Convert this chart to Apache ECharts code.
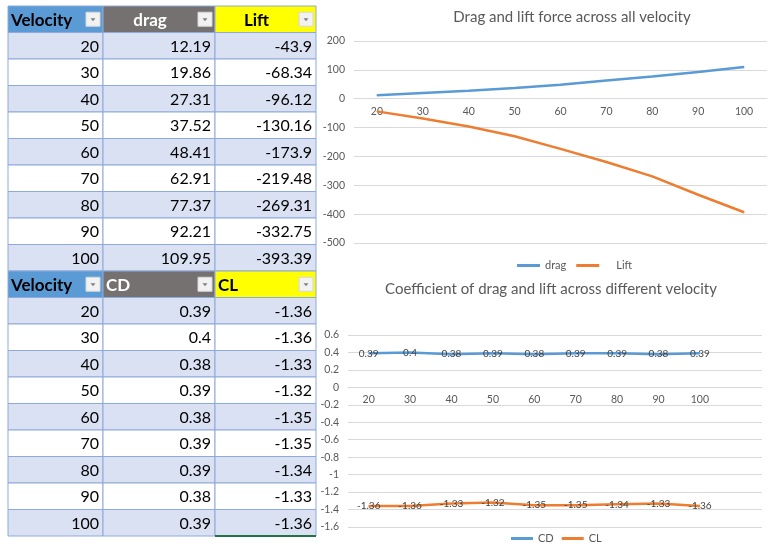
<!DOCTYPE html>
<html>
<head>
<meta charset="utf-8">
<script src="https://cdn.jsdelivr.net/npm/echarts@6/dist/echarts.min.js"></script>
<style>
  html, body { margin: 0; padding: 0; background: #ffffff; }
  #main { width: 769px; height: 546px; }
</style>
</head>
<body>
<div id="main"></div>
<script>
// ---- data ----
const velocity = [20, 30, 40, 50, 60, 70, 80, 90, 100];
const drag = [12.19, 19.86, 27.31, 37.52, 48.41, 62.91, 77.37, 92.21, 109.95];
const lift = [-43.9, -68.34, -96.12, -130.16, -173.9, -219.48, -269.31, -332.75, -393.39];
const cd = [0.39, 0.4, 0.38, 0.39, 0.38, 0.39, 0.39, 0.38, 0.39];
const cl = [-1.36, -1.36, -1.33, -1.32, -1.35, -1.35, -1.34, -1.33, -1.36];

const forceHeaders = ['Velocity', 'drag', 'Lift'];
const coeffHeaders = ['Velocity', 'CD', 'CL'];

const velocityLabels = velocity.map(String);
// the coefficient chart's source range includes one blank trailing row
const coeffCategories = velocityLabels.concat(['']);

const forceAxis = { min: -500, max: 200, interval: 100 };
const coeffAxis = { min: -1.6, max: 0.6, interval: 0.2 };

// ---- layout & styles ----
const FORCE_GRID = { left: 354, top: 41, width: 413, height: 202 };
const COEFF_GRID = { left: 348, top: 335, width: 414, height: 192 };
const COL_EDGES = [0, 95, 207, 308];
const HEADER_FILL = ['#5B9BD5', '#767171', '#FFFF00'];
const HEADER_TEXT = ['#000000', '#FFFFFF', '#000000'];
const BAND_FILL = ['#D9E1F2', '#FFFFFF'];
const GRID_LINE = '#8EA9DB';
const FONT = 'Lato, "Open Sans", sans-serif';

// category axis sits on the value axis' zero line: shift it up from the grid bottom
function zeroOffset(grid, axis) {
  return -grid.height * (0 - axis.min) / (axis.max - axis.min);
}

// both sheet tables stacked into one list of rows
const tableRows = [];
tableRows.push({ kind: 'header', cells: forceHeaders, align: ['left', 'center', 'center'] });
velocity.forEach((v, i) => tableRows.push({ kind: 'data', band: i % 2, cells: [String(v), String(drag[i]), String(lift[i])] }));
tableRows.push({ kind: 'header', cells: coeffHeaders, align: ['left', 'left', 'left'] });
velocity.forEach((v, i) => tableRows.push({ kind: 'data', band: i % 2, cells: [String(v), String(cd[i]), String(cl[i])] }));

const cellData = [];
tableRows.forEach((row, r) => { for (let c = 0; c < 3; c++) cellData.push([c, r]); });

function renderCell(params, api) {
  const c = api.value(0);
  const r = api.value(1);
  const row = tableRows[r];
  const left = api.coord([COL_EDGES[c], r])[0];
  const right = api.coord([COL_EDGES[c + 1], r])[0];
  const cy = api.coord([0, r])[1];
  const h = api.size([0, 1])[1];
  const top = cy - h / 2;
  const w = right - left;
  const children = [];

  if (row.kind === 'header') {
    children.push({ type: 'rect', shape: { x: left, y: top, width: w, height: h },
      style: { fill: HEADER_FILL[c], stroke: GRID_LINE, lineWidth: 1 } });
    const a = row.align[c];
    const tx = a === 'left' ? left + 3 : (left + right - 18) / 2;
    children.push({ type: 'text', style: { text: row.cells[c], x: tx, y: cy + 1, align: a,
      verticalAlign: 'middle', font: 'bold 17px ' + FONT, fill: HEADER_TEXT[c] } });
    // filter dropdown button
    const bx = right - 17, by = cy - 7;
    children.push({ type: 'rect', shape: { x: bx, y: by, width: 14, height: 14 },
      style: { fill: '#F2F2F2', stroke: '#D6D6D6', lineWidth: 1 } });
    children.push({ type: 'polygon', shape: { points: [[bx + 4.5, by + 6], [bx + 9.5, by + 6], [bx + 7, by + 9]] },
      style: { fill: '#808080' } });
  } else {
    children.push({ type: 'rect', shape: { x: left, y: top, width: w, height: h },
      style: { fill: BAND_FILL[row.band], stroke: GRID_LINE, lineWidth: 1 } });
    children.push({ type: 'text', style: { text: row.cells[c], x: right - 4, y: cy + 1, align: 'right',
      verticalAlign: 'middle', font: '16px ' + FONT, fill: '#000000' } });
    if (r === tableRows.length - 1 && c === 2) {
      children.push({ type: 'line', shape: { x1: left, y1: top + h, x2: right, y2: top + h },
        style: { stroke: '#217346', lineWidth: 2 } });
    }
  }
  return { type: 'group', children };
}

const axisText = { color: '#595959', fontSize: 10.5, fontFamily: FONT };
const gridLine = { lineStyle: { color: '#D9D9D9', width: 1 } };

function categoryAxis(gridIndex, data, grid, valueAxis) {
  return {
    type: 'category', gridIndex, data, position: 'bottom',
    offset: zeroOffset(grid, valueAxis),
    axisLine: { onZero: false, lineStyle: { color: '#D9D9D9' } }, axisTick: { show: false },
    axisLabel: Object.assign({ margin: 7, interval: 0 }, axisText), splitLine: { show: false }
  };
}

function valueAxis(gridIndex, range) {
  return Object.assign({
    type: 'value', gridIndex, axisLine: { show: false }, axisTick: { show: false },
    axisLabel: Object.assign({ margin: 9 }, axisText), splitLine: gridLine
  }, range);
}

function lineSeries(name, data, color, xi, withLabels) {
  return {
    type: 'line', name, data, xAxisIndex: xi, yAxisIndex: xi,
    color, lineStyle: { color, width: 2.5 },
    symbol: 'circle', symbolSize: 1, showSymbol: true,
    itemStyle: { color },
    label: withLabels ? { show: true, position: 'inside', color: '#404040', fontSize: 10, fontFamily: FONT } : { show: false },
    emphasis: { disabled: true }
  };
}

const chart = echarts.init(document.getElementById('main'), null, { renderer: 'canvas' });
chart.setOption({
  animation: false,
  backgroundColor: '#ffffff',
  textStyle: { fontFamily: FONT },
  title: [
    { text: 'Drag and lift force across all velocity', left: 572, top: 10, textAlign: 'center', padding: 0,
      textStyle: { color: '#595959', fontSize: 15, fontWeight: 'normal', fontFamily: FONT } },
    { text: 'Coefficient of drag and lift across different velocity', left: 551, top: 282, textAlign: 'center', padding: 0,
      textStyle: { color: '#595959', fontSize: 15, fontWeight: 'normal', fontFamily: FONT } }
  ],
  legend: [
    { data: ['drag', { name: 'Lift', textStyle: { padding: [0, 0, 0, 12] } }], left: 517, top: 260,
      icon: 'rect', itemWidth: 23, itemHeight: 3, itemGap: 10, padding: 0,
      textStyle: { color: '#595959', fontSize: 11 } },
    { data: ['CD', 'CL'], left: 511, top: 533,
      icon: 'rect', itemWidth: 22, itemHeight: 3, itemGap: 8, padding: 0,
      textStyle: { color: '#595959', fontSize: 11 } }
  ],
  grid: [
    { left: 8, top: 6, width: 308, height: 530 },
    FORCE_GRID,
    COEFF_GRID
  ],
  xAxis: [
    { type: 'value', gridIndex: 0, min: 0, max: 308, show: false },
    categoryAxis(1, velocityLabels, FORCE_GRID, forceAxis),
    categoryAxis(2, coeffCategories, COEFF_GRID, coeffAxis)
  ],
  yAxis: [
    { type: 'category', gridIndex: 0, data: tableRows.map((_, i) => String(i)), inverse: true, show: false },
    valueAxis(1, forceAxis),
    valueAxis(2, coeffAxis)
  ],
  series: [
    { type: 'custom', name: 'table', xAxisIndex: 0, yAxisIndex: 0, data: cellData,
      renderItem: renderCell, clip: false, silent: true },
    lineSeries('drag', drag, '#5B9BD5', 1, false),
    lineSeries('Lift', lift, '#ED7D31', 1, false),
    lineSeries('CD', cd, '#5B9BD5', 2, true),
    lineSeries('CL', cl, '#ED7D31', 2, true)
  ]
});
</script>
</body>
</html>
